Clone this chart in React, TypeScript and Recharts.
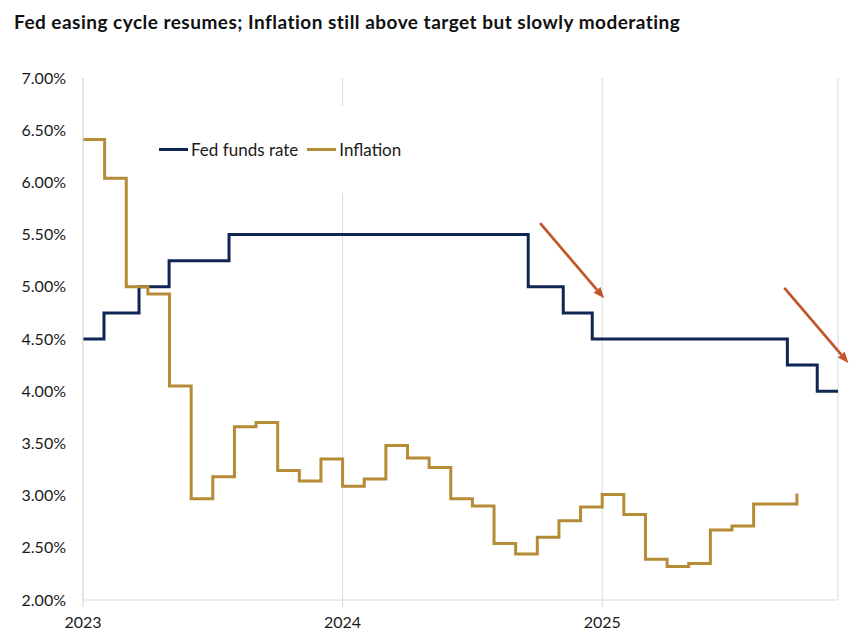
import React from "react";
import {
  CartesianGrid,
  Line,
  LineChart,
  ReferenceLine,
  XAxis,
  YAxis,
} from "recharts";

// months since Jan 2023
const FED_MONTHS = [0, 0.97, 2.59, 3.98, 6.75, 20.58, 22.2, 23.54, 32.56, 33.94, 34.9];
const FED_RATES = [4.5, 4.75, 5.0, 5.25, 5.5, 5.0, 4.75, 4.5, 4.25, 4.0, 4.0];

// monthly, starting Jan 2023
const INFLATION = [
  6.41, 6.04, 5.0, 4.93, 4.05, 2.97, 3.18, 3.66, 3.7, 3.24, 3.14, 3.35,
  3.09, 3.16, 3.48, 3.36, 3.27, 2.97, 2.9, 2.54, 2.44, 2.6, 2.76, 2.89,
  3.01, 2.82, 2.39, 2.32, 2.35, 2.67, 2.71, 2.92, 2.92, 3.02,
];

const YEAR_TICKS = [0, 12, 24];
const YEAR_LABELS = ["2023", "2024", "2025"];
const Y_TICKS = [2, 2.5, 3, 3.5, 4, 4.5, 5, 5.5, 6, 6.5, 7];

// arrow annotations: [x1, y1, x2, y2] in data units
const ARROWS = [
  [21.13, 5.61, 24.09, 4.89],
  [32.42, 4.99, 35.38, 4.27],
];

const NAVY = "#0f2654";
const GOLD = "#b58b36";
const ARROW = "#c2552a";
const GRID = "#d9d9d9";
const FONT = "Lato, 'Liberation Sans', sans-serif";

const fedData = FED_MONTHS.map((m, i) => ({ m, v: FED_RATES[i] }));
const inflationData = INFLATION.map((v, i) => ({ m: i, v }));

const arrowShape = (props: any) => {
  const { x1, y1, x2, y2 } = props;
  const ang = Math.atan2(y2 - y1, x2 - x1);
  const len = 11;
  const half = 4.5;
  const bx = x2 - len * Math.cos(ang);
  const by = y2 - len * Math.sin(ang);
  const px = -Math.sin(ang) * half;
  const py = Math.cos(ang) * half;
  return (
    <g>
      <line x1={x1} y1={y1} x2={bx} y2={by} stroke={ARROW} strokeWidth={2.7} />
      <polygon
        points={`${x2},${y2} ${bx + px},${by + py} ${bx - px},${by - py}`}
        fill={ARROW}
      />
    </g>
  );
};

function ChartLegend() {
  return (
    <div
      style={{
        position: "absolute",
        left: 150,
        top: 106,
        width: 262,
        height: 87,
        background: "#fff",
        display: "flex",
        alignItems: "center",
        paddingLeft: 9,
        boxSizing: "border-box",
        fontFamily: FONT,
        fontSize: 17,
        color: "#1a1a1a",
      }}
    >
      <span style={{ width: 29, height: 3, background: NAVY, marginRight: 3 }} />
      <span style={{ marginRight: 9 }}>Fed funds rate</span>
      <span style={{ width: 29, height: 3, background: GOLD, marginRight: 3 }} />
      <span>Inflation</span>
    </div>
  );
}

export default function App() {
  return (
    <div
      style={{
        position: "absolute",
        left: 0,
        top: 0,
        width: 864,
        height: 640,
        background: "#fff",
      }}
    >
      <div
        style={{
          position: "absolute",
          left: 14,
          top: 10,
          fontFamily: FONT,
          fontWeight: 700,
          fontSize: 19,
          letterSpacing: 0.48,
          color: "#111",
          whiteSpace: "nowrap",
        }}
      >
        Fed easing cycle resumes; Inflation still above target but slowly moderating
      </div>
      <LineChart
        width={864}
        height={640}
        margin={{ top: 78, right: 26, bottom: 0, left: 0 }}
      >
        <CartesianGrid horizontal={false} stroke={GRID} />
        <XAxis
          type="number"
          dataKey="m"
          domain={[0, 34.9]}
          ticks={YEAR_TICKS}
          tickFormatter={(v: number) => YEAR_LABELS[YEAR_TICKS.indexOf(v)]}
          height={40}
          axisLine={{ stroke: GRID }}
          tickLine={{ stroke: GRID }}
          tickSize={7}
          tickMargin={10}
          tick={{ fill: "#1a1a1a", fontSize: 16, fontFamily: FONT }}
        />
        <YAxis
          type="number"
          domain={[2, 7]}
          ticks={Y_TICKS}
          tickFormatter={(v: number) => v.toFixed(2) + "%"}
          width={83}
          axisLine={{ stroke: GRID }}
          tickLine={false}
          tickSize={6}
          tickMargin={11}
          tick={{ fill: "#1a1a1a", fontSize: 16, fontFamily: FONT }}
        />
        <Line
          data={fedData}
          dataKey="v"
          name="Fed funds rate"
          type="stepAfter"
          stroke={NAVY}
          strokeWidth={3}
          dot={false}
          isAnimationActive={false}
        />
        <Line
          data={inflationData}
          dataKey="v"
          name="Inflation"
          type="stepAfter"
          stroke={GOLD}
          strokeWidth={3}
          dot={false}
          isAnimationActive={false}
        />
        {ARROWS.map(([x1, y1, x2, y2], i) => (
          <ReferenceLine
            key={i}
            segment={[
              { x: x1, y: y1 },
              { x: x2, y: y2 },
            ]}
            ifOverflow="visible"
            shape={arrowShape}
          />
        ))}
      </LineChart>
      <ChartLegend />
    </div>
  );
}
